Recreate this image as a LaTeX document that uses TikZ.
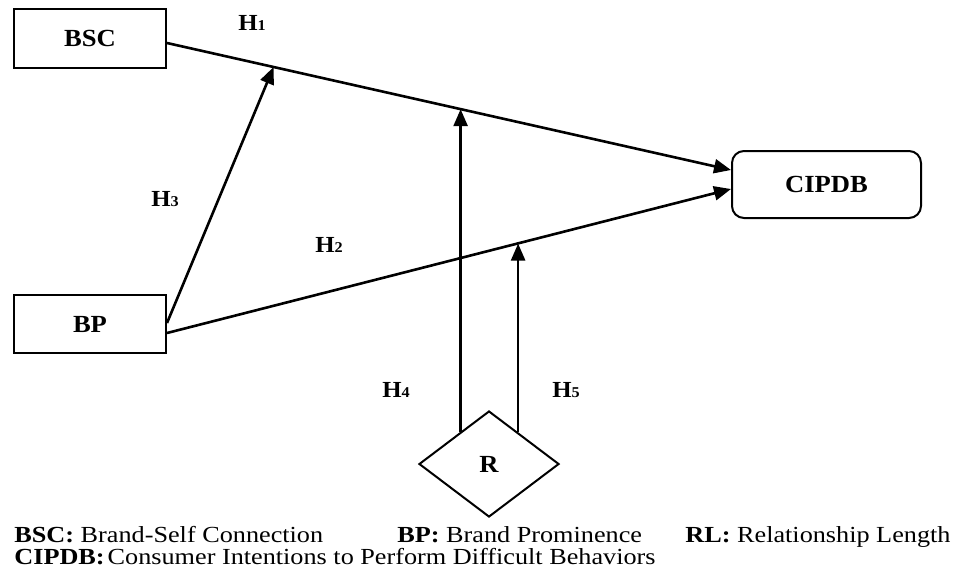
\documentclass[tikz,border=0pt]{standalone}
\usepackage{fontspec}
\setmainfont{Liberation Serif}[FakeStretch=1.08]
\newfontfamily\legfont{Liberation Serif}[FakeStretch=1.14]
\usetikzlibrary{arrows.meta,calc,shapes.geometric}
\newcommand\hsub[1]{{\fontsize{7.5}{9}\selectfont #1}}
\begin{document}
\begin{tikzpicture}[x=0.5pt,y=-0.5pt,
  box/.style={draw, line width=1pt, inner sep=0pt, font=\fontsize{12.3}{14}\selectfont\bfseries},
  arr/.style={line width=1.3pt, -{Triangle[length=8.5pt,width=7pt]}},
  hlab/.style={anchor=base west, inner sep=0pt, font=\fontsize{11.5}{13}\selectfont\bfseries},
  leg/.style={anchor=base west, inner sep=0pt, font=\legfont\fontsize{11.5}{13}\selectfont}]
\useasboundingbox (0,0) rectangle (956,579);
% nodes
\node[box, minimum width=76pt, minimum height=29.5pt] (BSC) at (90,38.5) {BSC};
\node[box, minimum width=76pt, minimum height=29pt] (BP) at (90,324) {BP};
\node[box, rounded corners=6pt, minimum width=94.5pt, minimum height=33.5pt] (CIPDB) at (826.5,184.5) {CIPDB};
\node[box, diamond, minimum width=70pt, minimum height=53pt] (R) at (489,464) {R};
% connectors
\coordinate (a1) at ($(BSC.east)+(0,4.5)$);
\coordinate (c1) at ($(CIPDB.west)+(0,-14.5)$);
\coordinate (a2) at ($(BP.east)+(0,9)$);
\coordinate (c2) at ($(CIPDB.west)+(0,4.5)$);
\draw[arr] (a1) -- (c1);
\draw[arr] (a2) -- (c2);
\coordinate (m3) at ($(a1)!0.189!(c1)$);
\coordinate (b3) at ($(BP.east)+(0,-1)$);
\draw[arr] (b3) -- (m3);
\coordinate (m4) at ($(a1)!0.521!(c1)$);
\coordinate (r4) at ($(R.west)!0.6!(R.north)$);
\draw[arr] (r4) -- (r4 |- m4);
\coordinate (m5) at ($(a2)!0.621!(c2)$);
\coordinate (r5) at ($(R.north)!0.41!(R.east)$);
\draw[arr] (r5) -- (r5 |- m5);
% hypothesis labels
\node[hlab] (h1) at (238,30) {H\hsub{1}};
\node[hlab] (h3) at (151,206) {H\hsub{3}};
\node[hlab] (h2) at (315,252) {H\hsub{2}};
\node[hlab] (h4) at (382,397) {H\hsub{4}};
\node[hlab] (h5) at (552,397) {H\hsub{5}};
% legend
\node[leg] (l1) at (14,542) {\textbf{BSC:} Brand-Self Connection};
\node[leg] (l2) at (397,542) {\textbf{BP:} Brand Prominence};
\node[leg] (l3) at (685,542) {\textbf{RL:} Relationship Length};
\node[leg] (l4) at (14,564) {\textbf{CIPDB:}\hspace{1.5pt}Consumer Intentions to Perform Difficult Behaviors};
\end{tikzpicture}
\end{document}
